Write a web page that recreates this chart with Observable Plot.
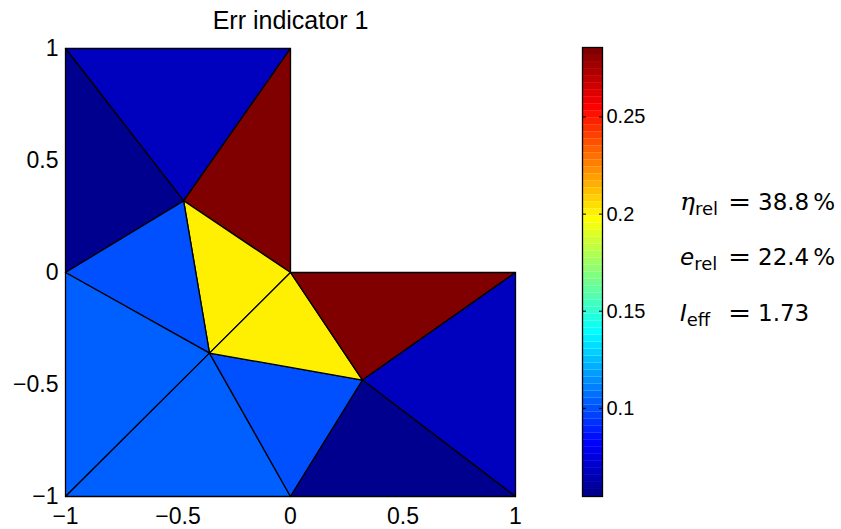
<!DOCTYPE html>
<html>
<head>
<meta charset="utf-8">
<script src="https://cdn.jsdelivr.net/npm/d3@7"></script>
<script src="https://cdn.jsdelivr.net/npm/@observablehq/plot@0.6"></script>
<style>
  html, body { margin: 0; padding: 0; background: #fff; }
  #wrap { position: relative; width: 841px; height: 529px; overflow: hidden; background: #fff; }
  #main, #cbar { position: absolute; top: 0; }
  #main { left: 0; }
  #cbar { left: 560px; }
  .ann { position: absolute; left: 680px; font-family: "DejaVu Sans", sans-serif; font-size: 23px; line-height: 23px; color: #000; white-space: nowrap; }
  .ann .lhs { display: inline-block; width: 48px; }
  .ann .eq { display: inline-block; width: 30px; }
  .ann .eq span { display: inline-block; transform: scaleX(1.2); transform-origin: left; }
  .ann sub { font-size: 18px; vertical-align: -5px; line-height: 0; font-style: normal; }
  .ann .gr { font-family: "DejaVu Serif", serif; font-style: italic; font-size: 25px; }
  .ann i { font-style: oblique; }
  .ann .pct { margin-left: 4px; }
</style>
</head>
<body>
<div id="wrap">
  <div id="main"></div>
  <div id="cbar"></div>
  <div class="ann" style="top:190px"><span class="lhs"><span class="gr">η</span><sub>rel</sub></span><span class="eq"><span>=</span></span>38.8<span class="pct">%</span></div>
  <div class="ann" style="top:246px"><span class="lhs"><i>e</i><sub>rel</sub></span><span class="eq"><span>=</span></span>22.4<span class="pct">%</span></div>
  <div class="ann" style="top:302px"><span class="lhs"><i>I</i><sub>eff</sub></span><span class="eq"><span>=</span></span>1.73</div>
</div>
<script>
// Mesh nodes of the L-shaped domain
const nodeX = [-1, 0, -1, 0, 1, -1, 0, 1, -0.475, -0.36, 0.32];
const nodeY = [1, 1, 0, 0, 0, -1, -1, -1, 0.32, -0.36, -0.48];
// Triangles (node indices)
const triangles = [
  [0, 1, 8], [0, 8, 2], [1, 3, 8], [8, 3, 9],
  [2, 8, 9], [2, 9, 5], [5, 9, 6], [9, 10, 6],
  [9, 3, 10], [3, 4, 10], [4, 7, 10], [10, 7, 6]
];
// Error indicator per triangle
const values = [0.068, 0.0546, 0.2858, 0.201, 0.100, 0.104, 0.104, 0.100, 0.202, 0.2855, 0.068, 0.0548];
const xTicks = [-1, -0.5, 0, 0.5, 1];
const yTicks = [-1, -0.5, 0, 0.5, 1];
const cTicks = [0.1, 0.15, 0.2, 0.25];
const title = "Err indicator 1";

// MATLAB jet(64)
function jet(m) {
  const n = Math.ceil(m / 4);
  const u = [];
  for (let i = 1; i <= n; i++) u.push(i / n);
  for (let i = 1; i < n; i++) u.push(1);
  for (let i = n; i >= 1; i--) u.push(i / n);
  const g0 = Math.ceil(n / 2) - (m % 4 === 1 ? 1 : 0);
  const R = new Array(m).fill(0), G = new Array(m).fill(0), B = new Array(m).fill(0);
  u.forEach((val, j) => {
    const g = g0 + j + 1, r = g + n, b = g - n;
    if (g >= 1 && g <= m) G[g - 1] = val;
    if (r >= 1 && r <= m) R[r - 1] = val;
    if (b >= 1 && b <= m) B[b - 1] = val;
  });
  return d3.range(m).map(i => d3.rgb(R[i] * 255, G[i] * 255, B[i] * 255).formatHex());
}
const NC = 64;
const jetColors = jet(NC);
const [vmin, vmax] = d3.extent(values);
const step = (vmax - vmin) / NC;
const thresholds = d3.range(1, NC).map(i => vmin + i * step);
const colorScale = {type: "threshold", domain: thresholds, range: jetColors};

const fmt = d => String(d).replace("-", "\u2212");

const rows = triangles.flatMap((t, k) => t.map(n => ({tri: k, x: nodeX[n], y: nodeY[n], v: values[k]})));

const font = "'Liberation Sans', Arial, Helvetica, sans-serif";

const main = Plot.plot({
  width: 570, height: 529,
  marginLeft: 65, marginRight: 55, marginTop: 48, marginBottom: 33,
  x: {domain: [-1, 1], axis: null},
  y: {domain: [-1, 1], axis: null},
  color: colorScale,
  style: {fontSize: "23px", fontFamily: font, background: "transparent", overflow: "visible"},
  marks: [
    Plot.line(rows, {x: "x", y: "y", z: "tri", fill: "v", stroke: "black", strokeWidth: 1.3, curve: "linear-closed", strokeLinejoin: "round"}),
    Plot.axisX({ticks: xTicks, tickSize: 0, tickPadding: 11, tickFormat: fmt, label: null, fontSize: 23}),
    Plot.axisY({ticks: yTicks, tickSize: 0, tickPadding: 7, tickFormat: fmt, label: null, fontSize: 23}),
    Plot.text([title], {frameAnchor: "top", text: d => d, dy: -20, lineAnchor: "bottom", fontSize: 25})
  ]
});
document.getElementById("main").appendChild(main);

const levels = d3.range(NC).map(i => ({y1: vmin + i * step, y2: vmin + (i + 1) * step, v: vmin + (i + 0.5) * step}));
const cbar = Plot.plot({
  width: 281, height: 529,
  marginLeft: 22, marginRight: 239, marginTop: 47, marginBottom: 33,
  x: {domain: [0, 1], axis: null},
  y: {domain: [vmin, vmax], axis: null},
  color: colorScale,
  style: {fontSize: "20px", fontFamily: font, background: "transparent", overflow: "visible"},
  marks: [
    Plot.rect(levels, {x1: 0, x2: 1, y1: "y1", y2: "y2", fill: "v"}),
    Plot.axisY({anchor: "left", ticks: cTicks, tickSize: -4, tickFormat: () => "", label: null}),
    Plot.axisY({anchor: "right", ticks: cTicks, tickSize: -4, tickPadding: 8, tickFormat: fmt, label: null, fontSize: 20}),
    Plot.frame({stroke: "black", strokeWidth: 1.3})
  ]
});
document.getElementById("cbar").appendChild(cbar);
</script>
</body>
</html>
